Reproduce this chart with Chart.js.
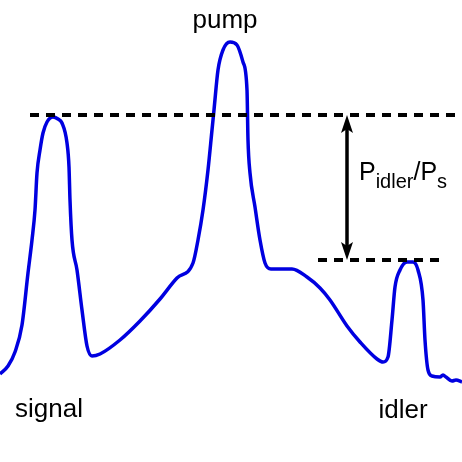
<!DOCTYPE html>
<html>
<head>
<meta charset="utf-8">
<script src="https://cdn.jsdelivr.net/npm/chart.js@4/dist/chart.umd.min.js"></script>
<style>
html,body{margin:0;padding:0;background:#fff;}
#wrap{width:462px;height:462px;position:relative;}
</style>
</head>
<body>
<div id="wrap"><canvas id="c" width="462" height="462"></canvas></div>
<script>
// Spectrum trace (relative wavelength, relative power)
const wavelength = [0,8,15,22,28,32,35,37,40,43,47,53,58,62,67,69,70,72,77,82,87,92,100,120,140,160,177,193,198,203,208,212,214,218,223,230,237,243,247,248,250,255,260,265,271,292,307,320,330,347,360,377,383,388,392,395,400,407,413,418,423,425,428,432,440,443,446,452,456,462];
const power = [88,96,110,137,189,222,252,289,312,329,340,345,343,339,319,295,262,222,192,152,116,106,108,122,141,163,184,199,222,252,292,332,352,392,412,420,417,400,372,322,289,255,222,199,193,193,185,174,162,136,120,103,100,105,142,175,192,200,200,192,162,122,92,86,85,87,85,81,82,80];

// Reference levels (dashed lines)
const signalLevel = 347;
const idlerLevel = 202;
const signalLineX = [30, 462];
const idlerLineX = [318, 445];
const arrowX = 347;

// Peak labels
const labelTexts = ['signal', 'pump', 'idler'];

const curve = wavelength.map((x, i) => ({x: x, y: power[i]}));

const annot = {
  id: 'annot',
  afterDraw(chart) {
    const ctx = chart.ctx;
    const xs = chart.scales.x, ys = chart.scales.y;
    ctx.save();
    // arrow
    const ax = xs.getPixelForValue(arrowX);
    const yTop = ys.getPixelForValue(signalLevel);
    const yBot = ys.getPixelForValue(idlerLevel);
    const hl = 18, hw = 6;
    ctx.strokeStyle = '#000';
    ctx.fillStyle = '#000';
    ctx.lineWidth = 3.5;
    ctx.beginPath();
    ctx.moveTo(ax, yTop + 10);
    ctx.lineTo(ax, yBot - 10);
    ctx.stroke();
    function head(tipY, dir) {
      ctx.beginPath();
      ctx.moveTo(ax, tipY);
      ctx.lineTo(ax - hw, tipY + dir * hl);
      ctx.lineTo(ax, tipY + dir * (hl - 4));
      ctx.lineTo(ax + hw, tipY + dir * hl);
      ctx.closePath();
      ctx.fill();
    }
    head(yTop, 1);
    head(yBot, -1);

    // labels
    ctx.fillStyle = '#000';
    ctx.textBaseline = 'alphabetic';
    ctx.textAlign = 'center';
    ctx.font = '26px "Liberation Sans", Arial, sans-serif';
    const pos = [[49, 45], [225, 434], [403, 44]];
    labelTexts.forEach((t, i) => {
      ctx.fillText(t, xs.getPixelForValue(pos[i][0]), ys.getPixelForValue(pos[i][1]));
    });

    // P_idler / P_s
    ctx.textAlign = 'left';
    let x = xs.getPixelForValue(359);
    const base = ys.getPixelForValue(282);
    const big = '25px "Liberation Sans", Arial, sans-serif';
    const small = '20px "Liberation Sans", Arial, sans-serif';
    const parts = [['P', big, 0], ['idler', small, 8], ['/P', big, 0], ['s', small, 8]];
    parts.forEach(p => {
      ctx.font = p[1];
      ctx.fillText(p[0], x, base + p[2]);
      x += ctx.measureText(p[0]).width;
    });
    ctx.restore();
  }
};

new Chart(document.getElementById('c'), {
  type: 'scatter',
  data: {
    datasets: [
      {
        data: curve,
        showLine: true,
        borderColor: '#0000e0',
        borderWidth: 3.5,
        pointRadius: 0,
        cubicInterpolationMode: 'monotone',
        order: 1
      },
      {
        data: [{x: signalLineX[0], y: signalLevel}, {x: signalLineX[1], y: signalLevel}],
        showLine: true,
        borderColor: '#000',
        borderWidth: 4,
        borderDash: [9, 7],
        pointRadius: 0,
        order: 0
      },
      {
        data: [{x: idlerLineX[0], y: idlerLevel}, {x: idlerLineX[1], y: idlerLevel}],
        showLine: true,
        borderColor: '#000',
        borderWidth: 4,
        borderDash: [9, 7],
        pointRadius: 0,
        order: 0
      }
    ]
  },
  options: {
    responsive: false,
    animation: false,
    devicePixelRatio: 1,
    layout: {padding: 0},
    clip: false,
    plugins: {legend: {display: false}, tooltip: {enabled: false}},
    scales: {
      x: {type: 'linear', min: 0, max: 462, display: false},
      y: {type: 'linear', min: 0, max: 462, display: false}
    }
  },
  plugins: [annot]
});
</script>
</body>
</html>
